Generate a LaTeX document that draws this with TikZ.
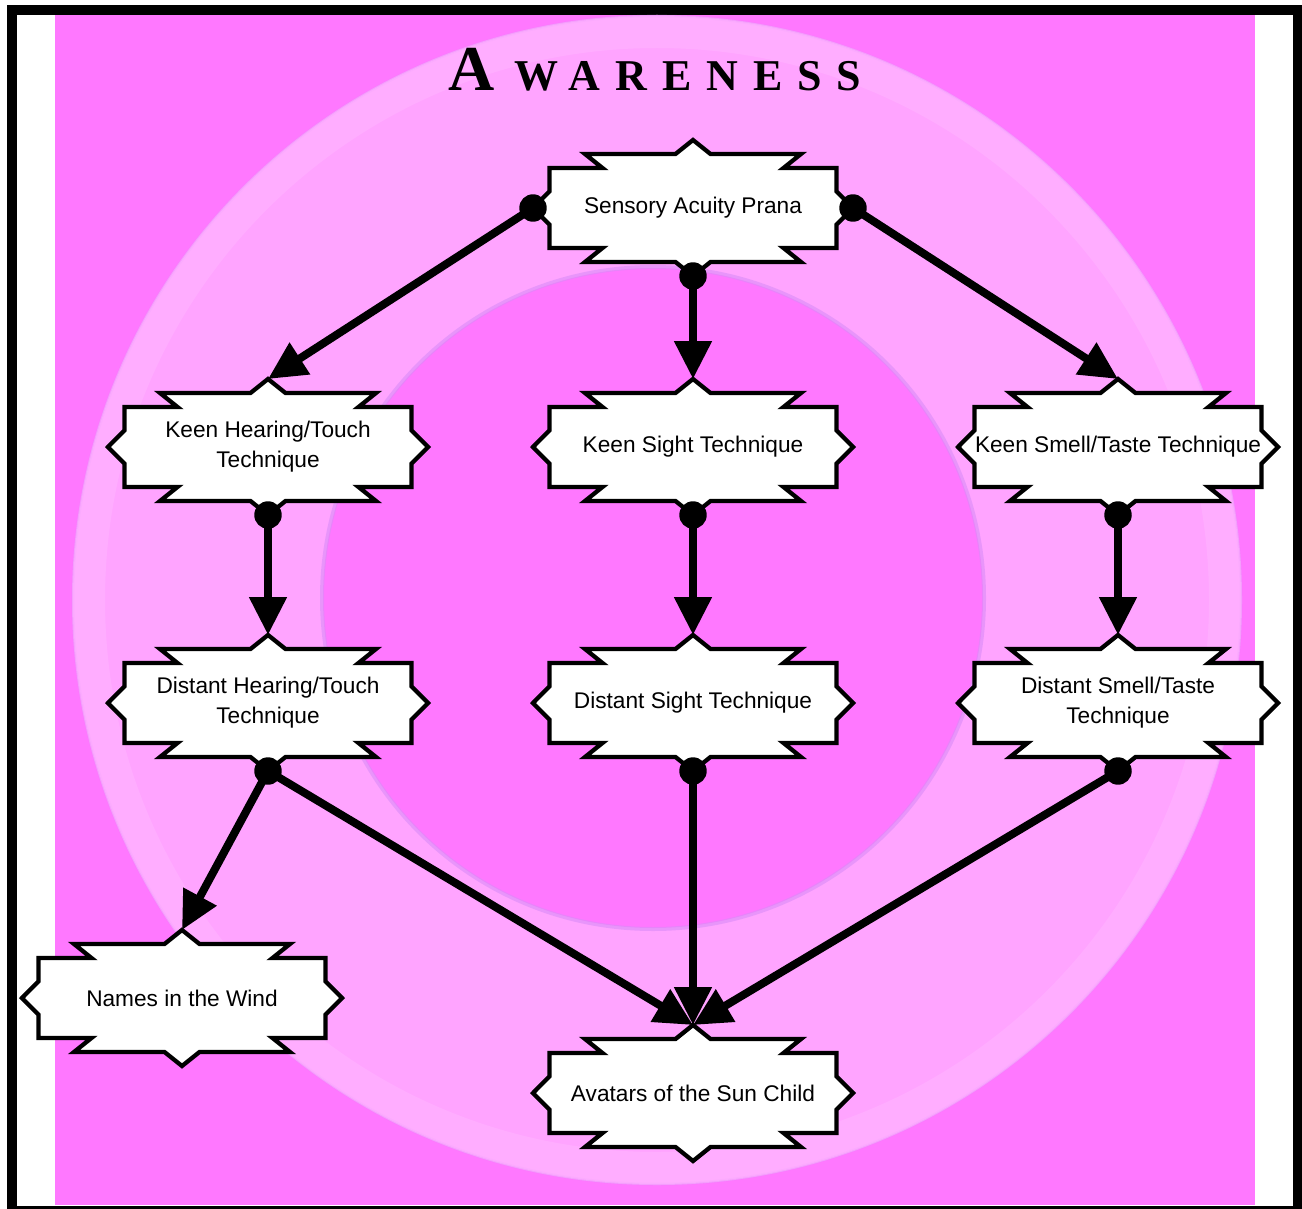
\documentclass[tikz,border=0pt]{standalone}
\usepackage{fontspec}
\setmainfont{Liberation Sans}
\newfontfamily\titlefont{Liberation Serif}
\usetikzlibrary{arrows.meta}
\definecolor{bgpink}{HTML}{FF78FF}
\definecolor{ringpink}{HTML}{FFA4FF}
\definecolor{ringlight}{HTML}{FFB4FF}
\definecolor{lavender}{HTML}{D98CF8}
\tikzset{
  starshape/.pic={
    \draw[line width=3.2pt, fill=white, line join=miter]
      (-143.5,-40) -- (-90.5,-40) -- (-108,-54) -- (-17.5,-54) -- (0,-68)
      -- (17.5,-54) -- (108,-54) -- (90.5,-40) -- (143.5,-40) -- (143.5,-16.7)
      -- (160,0) -- (143.5,16.7) -- (143.5,40) -- (90.5,40) -- (108,54)
      -- (17.5,54) -- (0,68) -- (-17.5,54) -- (-108,54) -- (-90.5,40)
      -- (-143.5,40) -- (-143.5,16.7) -- (-160,0) -- (-143.5,-16.7) -- cycle;
    \coordinate (-top) at (0,-68);
    \coordinate (-bot) at (0,68);
    \coordinate (-left) at (-160,0);
    \coordinate (-right) at (160,0);
  },
  ntext/.style={align=center, inner sep=0pt, text=black,
    font=\fontsize{17}{22.5}\selectfont},
  conn/.style={line width=6pt, -{Triangle[length=28.5pt,width=27pt]}},
  dotstyle/.style={fill=black}
}
\begin{document}
\begin{tikzpicture}[x=0.75pt,y=-0.75pt]
\useasboundingbox (0,0) rectangle (1302,1209);
% frame
\fill[white] (0,0) rectangle (1302,1209);
\fill[black] (7,5) rectangle (1302,1209);
\fill[white] (17,15) rectangle (1293,1206);
\fill[bgpink] (55,15) rectangle (1255,1205);
% ring
\begin{scope}
  \clip (55,15) rectangle (1255,1205);
  \fill[ringpink] (657,600) circle (585);
  \draw[lavender, line width=2pt, opacity=0.25] (657,600) circle (584);
  \draw[ringlight, line width=24pt, opacity=0.6] (657,600) circle (568);
  \fill[bgpink] (653,598) circle (330);
  \draw[lavender, line width=3pt, opacity=0.6] (653,598) circle (331);
\end{scope}
% title
\node[anchor=base west, inner sep=0pt] (title) at (448,91)
  {\titlefont\bfseries{\fontsize{48}{48}\selectfont A}\hspace{15pt}{\fontsize{33}{33}\selectfont\addfontfeature{LetterSpace=34}WARENESS}};
% shapes
\pic (sap) at (693,208) {starshape};
\pic (kht) at (268,447) {starshape};
\pic (ks) at (693,447) {starshape};
\pic (kst) at (1118,447) {starshape};
\pic (dht) at (268,703) {starshape};
\pic (ds) at (693,703) {starshape};
\pic (dst) at (1118,703) {starshape};
\pic (niw) at (182,998) {starshape};
\pic (asc) at (693,1093) {starshape};
% texts
\node[ntext] (sapT) at (693,208) {Sensory Acuity Prana};
\node[ntext] (khtT) at (268,447) {Keen Hearing/Touch\\Technique};
\node[ntext] (ksT) at (693,447) {Keen Sight Technique};
\node[ntext] (kstT) at (1118,447) {Keen Smell/Taste Technique};
\node[ntext] (dhtT) at (268,703) {Distant Hearing/Touch\\Technique};
\node[ntext] (dsT) at (693,703) {Distant Sight Technique};
\node[ntext] (dstT) at (1118,703) {Distant Smell/Taste\\Technique};
\node[ntext] (niwT) at (182,998) {Names in the Wind};
\node[ntext] (ascT) at (693,1093) {Avatars of the Sun Child};
% connectors
\draw[conn] (sap-left) -- (kht-top);
\draw[conn] (sap-bot) -- (ks-top);
\draw[conn] (sap-right) -- (kst-top);
\draw[conn] (kht-bot) -- (dht-top);
\draw[conn] (ks-bot) -- (ds-top);
\draw[conn] (kst-bot) -- (dst-top);
\draw[conn] (dht-bot) -- (niw-top);
\draw[conn] (dht-bot) -- (asc-top);
\draw[conn] (ds-bot) -- (asc-top);
\draw[conn] (dst-bot) -- (asc-top);
% start dots
\foreach \p in {sap-left,sap-bot,sap-right,kht-bot,ks-bot,kst-bot,dht-bot,ds-bot,dst-bot}
  \fill[dotstyle] (\p) circle (10.3pt);
\end{tikzpicture}
\end{document}
